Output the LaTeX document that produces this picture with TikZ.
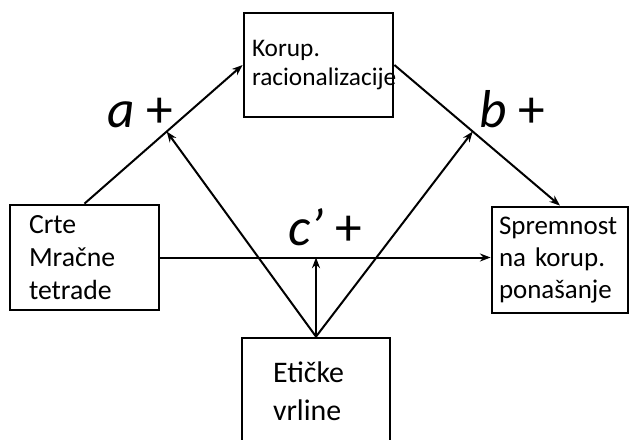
\documentclass[tikz,border=0pt]{standalone}
\usepackage{fontspec}
\setmainfont{Carlito}
\usetikzlibrary{arrows.meta,calc}
\begin{document}
\begin{tikzpicture}[x=0.75pt,y=-0.75pt,
  box/.style={draw, line width=2.1pt, rectangle, align=left, inner ysep=0pt},
  arr/.style={line width=1.5pt, -{Stealth[length=8pt,width=6pt]}},
  lab/.style={font=\fontsize{40}{44}\selectfont, inner sep=0pt, anchor=base west}]
\useasboundingbox (0,0) rectangle (635,439);
\node[box, minimum width=111.75pt, minimum height=78pt, text width=99.75pt, inner xsep=6pt,
  font=\fontsize{19}{21.5}\selectfont] (T) at (318.5,65) {Korup.\\racionalizacije};
\node[box, minimum width=111.75pt, minimum height=78.75pt, text width=83.25pt, inner xsep=14.25pt,
  font=\fontsize{20.8}{25}\selectfont] (L) at (84.5,257.5) {Crte\\Mračne\\tetrade};
\node[box, minimum width=102pt, minimum height=79.5pt, text width=91.5pt, inner xsep=5.25pt,
  font=\fontsize{20.2}{24}\selectfont] (R) at (560,260) {Spremnost\\na korup.\\ponašanje};
\node[box, minimum width=111pt, minimum height=79.5pt, text width=64.5pt, inner xsep=23.25pt,
  font=\fontsize{22.4}{28.5}\selectfont] (B) at (316,391) {Etičke\\vrline};
\draw[arr] (L.north) -- (T.west);
\draw[arr] (T.east) -- (R.north);
\draw[arr] (L.east) -- (R.west |- L.east);
\coordinate (aM) at ($(L.north)!0.52!(T.west)$);
\coordinate (bM) at ($(T.east)!0.473!(R.north)$);
\draw[arr] (B.north) -- (aM);
\draw[arr] (B.north) -- (bM);
\draw[arr] (B.north) -- (B.north |- L.east);
\node[lab] (la) at (107,127) {\itshape a\/ \upshape +};
\node[lab] (lb) at (479,127) {\itshape b\/ \upshape +};
\node[lab] (lc) at (288,245) {\itshape c’ \upshape +};
\end{tikzpicture}
\end{document}
